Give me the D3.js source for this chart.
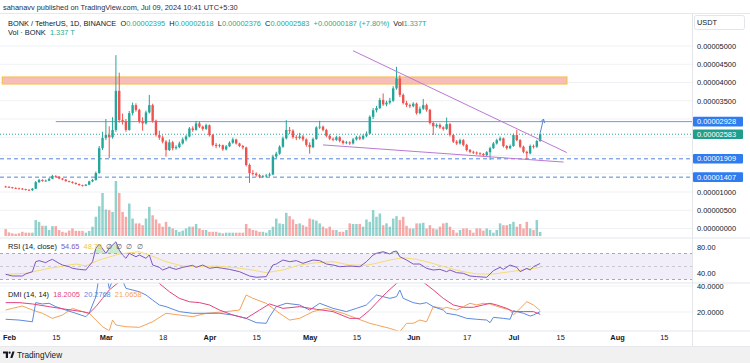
<!DOCTYPE html>
<html><head><meta charset="utf-8">
<script src="https://cdn.jsdelivr.net/npm/d3@7"></script>
<style>
html,body{margin:0;padding:0;background:#fff;}
svg{display:block;font-family:"Liberation Sans",Arial,sans-serif;}
</style></head><body>
<svg id="c" width="750" height="363"></svg>
<script>
// ---------- DATA (prices in units of 1e-6 USDT, volume in trillions BONK) ----------
const startDate = "2024-01-31";   // first candle
const firstOpen = 11.5;
const closes = [11.4,11.3,11.1,11.0,10.9,10.8,10.6,10.5,10.9,12.7,
 13.3,13.0,13.1,13.6,14.4,14.2,13.7,13.4,13.0,12.8,
 12.5,12.2,11.9,11.7,12.0,12.9,13.3,15.2,22.0,24.8,
 25.6,25.0,27.0,37.7,29.7,29.3,27.0,31.6,33.8,32.5,
 29.3,28.8,31.8,33.8,29.5,25.6,24.9,23.8,21.5,23.6,
 22.0,22.3,23.3,24.4,25.2,27.4,27.0,28.8,27.9,27.3,
 28.3,25.6,22.9,22.6,22.8,21.7,22.5,23.5,24.4,23.3,
 22.6,22.2,17.4,15.2,15.0,14.6,14.2,14.3,14.5,14.8,
 19.7,20.5,22.4,24.7,27.0,26.8,25.0,24.8,25.2,24.4,
 22.9,22.3,24.5,27.7,27.9,27.0,25.4,24.6,24.3,25.0,
 24.0,23.4,23.6,23.3,24.4,25.0,24.6,25.4,26.0,30.6,
 32.4,33.0,35.2,34.0,34.5,35.0,38.4,41.1,36.6,34.4,
 33.8,33.5,34.2,31.6,32.8,33.8,32.5,28.9,28.0,28.4,
 27.7,27.3,28.6,25.6,23.8,23.3,24.2,22.9,21.5,21.0,
 20.8,20.6,20.4,20.1,20.9,22.0,23.3,24.2,24.7,22.6,
 22.0,22.6,25.6,24.2,22.4,21.0,20.6,22.6,22.4,23.95,
 25.83];
const highs = [11.7,11.6,11.4,11.3,11.2,11.1,10.9,10.8,11.1,13.0,
 13.6,13.5,13.4,13.9,14.7,14.6,14.3,13.8,13.5,13.1,
 12.9,12.6,12.3,12.0,12.2,13.1,13.6,15.6,22.6,26.5,
 30.0,28.0,30.5,47.5,42.7,31.5,30.0,32.2,34.5,34.3,
 32.8,30.5,32.3,36.6,34.2,29.8,26.8,25.5,24.2,24.4,
 24.0,22.8,23.8,24.9,25.6,27.8,28.0,29.5,29.4,28.2,
 28.7,28.5,25.9,23.4,23.2,23.0,22.9,23.9,24.9,24.6,
 23.5,22.9,22.4,17.8,16.0,15.4,14.9,14.7,14.9,15.3,
 20.2,21.0,22.8,25.2,29.7,27.8,27.2,25.6,26.2,25.6,
 24.7,23.6,24.9,28.0,29.5,28.2,27.3,25.8,24.9,25.4,
 25.3,24.3,24.0,23.9,24.8,25.4,25.5,25.8,26.6,31.0,
 33.0,33.6,35.8,37.0,35.0,35.8,39.0,44.3,42.0,37.0,
 35.0,34.2,34.6,34.5,33.4,35.5,34.2,32.8,29.2,28.8,
 28.8,28.0,30.4,28.9,25.9,24.2,24.6,24.5,23.2,21.8,
 21.3,21.1,20.9,20.7,21.2,22.4,23.7,24.6,25.2,24.9,
 22.9,23.0,26.0,27.0,24.5,22.7,21.3,23.0,23.0,24.3,
 26.18];
const lows = [11.2,11.1,10.9,10.8,10.7,10.6,10.4,10.3,10.3,10.8,
 12.5,12.8,12.8,13.0,13.5,13.9,13.5,13.2,12.8,12.6,
 12.3,12.0,11.7,11.5,11.6,11.9,12.7,13.1,15.0,21.5,
 24.2,19.3,24.6,26.5,29.0,28.5,26.5,26.8,31.0,32.0,
 28.8,26.8,28.5,31.5,29.0,25.2,24.3,23.3,19.7,21.2,
 21.4,21.6,22.0,23.0,23.9,25.0,26.5,26.8,27.5,26.8,
 27.0,25.2,22.5,22.0,22.2,21.3,21.4,22.3,23.2,23.0,
 22.3,21.7,17.0,12.5,14.5,14.2,13.8,13.9,14.0,14.2,
 14.6,19.2,20.2,22.1,24.4,25.9,24.6,24.2,24.4,23.9,
 22.4,20.5,22.0,24.3,27.2,26.6,25.0,24.2,23.9,24.0,
 23.6,23.0,23.1,22.9,23.0,24.1,24.2,24.3,25.0,25.8,
 30.0,31.8,32.7,33.6,33.5,34.0,34.7,38.0,36.0,34.0,
 33.3,33.0,33.2,31.2,31.3,32.5,32.0,28.5,25.6,27.6,
 27.3,26.8,27.0,25.2,23.4,22.9,23.0,22.5,21.1,20.6,
 20.4,20.2,20.0,19.7,19.8,18.8,21.8,23.0,23.9,22.2,
 21.6,21.7,22.4,23.9,22.0,20.6,18.8,20.3,21.9,22.1,
 23.76];
const volumes = [2.3,1.2,0.9,0.7,0.9,1.4,1.1,1.1,1.1,5.3,
 4.7,3.4,3.4,2.0,3.3,3.3,2.0,1.4,1.1,1.8,
 2.5,1.7,1.7,1.7,1.1,1.7,3.1,6.4,9.9,14.3,
 8.8,8.6,8.0,18.3,14.3,8.0,6.4,10.8,5.8,4.2,
 4.2,3.6,5.8,9.7,6.9,5.5,4.2,3.1,4.7,3.1,
 2.5,2.0,1.4,1.8,
 2.5,3.1,3.1,4.0,2.5,2.0,2.0,1.4,1.4,1.4,
 1.1,0.9,1.1,1.1,1.1,1.1,1.1,1.1,4.0,2.5,
 2.0,1.8,1.4,1.4,1.1,2.0,3.1,5.8,4.2,4.0,
 7.7,6.6,5.5,4.0,4.2,3.6,3.1,5.8,5.5,5.1,
 4.2,3.1,2.5,3.1,2.0,2.0,1.4,1.4,2.0,4.2,
 4.0,4.0,4.0,3.1,5.5,
 4.7,8.6,6.4,7.5,3.6,4.2,3.1,5.8,6.6,5.3,
 6.4,3.4,2.5,2.5,4.2,4.2,4.4,2.5,3.6,2.5,
 2.2,3.1,4.2,4.4,3.1,2.0,1.1,2.0,2.5,2.5,
 2.0,1.1,2.5,2.5,1.8,2.5,2.0,1.1,2.0,4.2,
 3.6,3.6,4.0,4.7,3.1,4.0,2.5,4.7,2.5,2.0,
 5.3,1.337];

// indicator samples: day offsets from startDate and values
const rsiDays = [0,2,5,6,8,9,10,12,13,14,16,17,19,20,22,24,26,27,28,30,31,33,34,35,36,37,39,40,42,43,44,46,47,49,51,53,56,57,59,61,63,65,67,70,73,75,78,80,81,83,85,87,89,92,94,96,98,100,103,106,108,110,111,113,115,116,117,118,120,122,124,126,128,130,132,133,135,137,139,141,144,146,148,149,151,153,154,156,157,158,160];
const rsiValues = [38,35.4,35.4,38.5,42,57.4,59,55.9,59,61,54.9,52.3,49.7,47.2,45.6,44.6,57.4,78,84.6,70.3,78,88,75.4,67.7,62.6,70.3,65,67.7,62.6,67.7,52.3,48.7,44.6,48.7,45.6,48.7,51.8,48.7,52.3,47.2,48.7,47.2,45.6,42,35.4,33.4,34.4,52.3,53.8,60,57.4,59,54.9,60,59,53.8,52.3,49.7,50.7,49.7,57.4,67.7,70.3,72.8,69.2,72.8,73.8,65,60,53.8,53.8,47.2,44.6,45.6,42,44.6,40.5,39.5,35.4,34.4,33.4,43.6,48.7,45.6,52.3,48.7,42,47.2,44.6,49.7,54.65];
const rsiMaDays = [0,6,13,21,24,28,34,40,43,48,53,58,63,68,74,78,83,88,93,98,103,108,111,115,119,123,127,131,136,141,146,151,156,160];
const rsiMaValues = [38,39.5,47.2,53.8,51,60,69.2,72.8,67.7,57.4,50.7,49.7,50.7,48.7,44.6,40.5,44.6,52.3,55.9,57.4,52.3,52,55,60,63.5,61,56,50,43,38.5,38.5,42,45.6,48.73];
const adxDays = [0,4,8,13,18,23,25,27,29,31,34,37,40,43,46,49,52,55,58,61,64,68,72,76,79,83,88,93,98,103,106,109,111,114,117,121,125,128,131,134,137,140,145,147,150,152,155,158,160];
const adxValues = [27.2,27.2,26.2,24.1,22.1,20.3,19.0,24.1,30.5,36.9,43.3,50,52,50,42,35.6,30.5,27.9,27.2,25.4,21.5,17.7,15.1,21.5,26.2,22.8,24.1,22.1,20.3,15.1,15.1,21.5,27,35,42,48,43,37,30.5,25.4,23.6,23.6,26.7,25.4,22.8,20.3,20.3,20.3,18.2005];
const plusDiDays = [0,4,8,9,11,13,15,18,21,24,25,27,28,30,31,32,34,36,40,42,44,46,48,52,56,60,64,68,72,75,78,79,81,84,88,91,94,98,102,105,108,111,113,115,117,118,119,122,124,126,128,131,132,135,138,141,144,145,146,149,151,152,155,157,158,160];
const plusDiValues = [14.4,13.8,12.5,27.2,26.2,26.7,24.1,21.5,19.0,16.4,19.0,31.8,48,52,38,44,50,38.2,35.6,33.1,29.2,25.4,24.1,20.3,19.0,19.0,19.0,17.7,15.1,11.8,11.3,16.4,24.1,26.7,25.4,21.5,26.7,22.8,20.3,22.8,25.4,33.1,31.8,30.5,31.8,36.9,30.5,27.2,26.2,27.2,24.1,21.5,19.0,17.7,15.1,14.4,13.8,11.8,15.9,15.1,14.4,21.0,19.0,16.9,17.7,20.2768];
const minusDiDays = [0,2,5,8,11,14,17,20,23,25,27,29,31,32,33,36,40,44,48,52,56,60,66,70,72,74,78,82,85,88,92,96,101,105,109,111,115,118,120,122,124,126,128,131,132,135,137,139,141,143,145,148,151,152,154,156,158,160];
const minusDiValues = [21.5,22.8,24.6,21.5,19.0,15.1,17.7,22.8,20.3,19.0,13.8,8.7,5.6,13.8,10.0,8.7,8.2,12.5,19.0,17.7,16.4,19.0,20.3,21.5,33.1,30.5,26.7,19.0,13.8,15.1,20.3,22.8,19.0,15.1,11.3,10,7.4,4.9,11.3,11.3,13.8,12.5,24.1,22.8,23.6,21.5,24.1,26.7,25.4,26.7,26.2,23.6,21.5,17.7,22.8,27.9,25.4,21.0658];

// drawings
const zoneDates = ["2024-01-30","2024-07-17"]; const zonePrices = [39.6,41.5];
const resistanceStart = "2024-02-15"; const resistancePrice = 29.28;
const supportPrices = [19.09,14.07];
const lastPrice = 25.83;
const upperTrend = [["2024-05-14",48.7],["2024-07-17",20.8]];
const lowerTrend = [["2024-05-05",22.9],["2024-07-16",18.2]];
const arrowPts = [["2024-07-09",26.2],["2024-07-10",30.0]];
const priceTicks = [0,5,10,35,40,45,50];
const gridPrices = [0,5,10,15,20,25,30,35,40,45,50];
const timeTicks = ["2024-02-01","2024-02-15","2024-03-01","2024-03-18","2024-04-01","2024-04-15","2024-05-01","2024-05-15","2024-06-01","2024-06-17","2024-07-01","2024-07-15","2024-08-01","2024-08-15"];

// ---------- CHART ----------
const svg = d3.select("#c");
const parse = d3.utcParse("%Y-%m-%d");
const t0 = parse(startDate);
const dd = d => d3.utcDay.offset(t0, d);
const x = d3.scaleUtc().domain([parse("2024-02-01"), parse("2024-08-01")]).range([9, 617]);
const yP = d3.scaleLinear().domain([0, 50]).range([228.5, 46]);
const yV = d3.scaleLinear().domain([0, 18.3]).range([236, 181]);
const yR = d3.scaleLinear().domain([30, 70]).range([279.5, 253.5]);
const yD = d3.scaleLinear().domain([20, 40]).range([312, 286]);
const PW = 692; // plot right edge
const UP = "#26a69a", DN = "#ef5350";
const FONT = 7.4;

const defs = svg.append("defs");
const clip = (id, y0, y1) => defs.append("clipPath").attr("id", id).append("rect").attr("x", 0).attr("y", y0).attr("width", PW).attr("height", y1 - y0);
clip("cMain", 14, 238); clip("cRsi", 238, 283); clip("cDmi", 283, 331);
defs.append("clipPath").attr("id","cDmiAx").append("rect").attr("x",PW).attr("y",283).attr("width",60).attr("height",48);
defs.append("marker").attr("id","arr").attr("viewBox","0 0 8 8").attr("refX",6).attr("refY",4)
  .attr("markerWidth",6).attr("markerHeight",6).attr("orient","auto")
  .append("path").attr("d","M1,1 L6,4 L1,7").attr("fill","none").attr("stroke","#5a86d8").attr("stroke-width",1.2);

svg.append("rect").attr("width",750).attr("height",363).attr("fill","#fff");
// bottom strip
svg.append("rect").attr("x",0).attr("y",347).attr("width",750).attr("height",16).attr("fill","#f1f1f1");

// candles data
const candles = closes.map((c,i)=>({d:dd(i), o: i===0?firstOpen:closes[i-1], h:highs[i], l:lows[i], c, v:volumes[i]}));

// grid
const main = svg.append("g").attr("clip-path","url(#cMain)");
main.selectAll("line.g").data(gridPrices).join("line").attr("x1",0).attr("x2",PW)
  .attr("y1",d=>yP(d)).attr("y2",d=>yP(d)).attr("stroke","#f0f1f4").attr("stroke-width",1);

// zone
main.append("rect").attr("x",x(parse(zoneDates[0]))).attr("width",x(parse(zoneDates[1]))-x(parse(zoneDates[0])))
  .attr("y",yP(zonePrices[1])).attr("height",yP(zonePrices[0])-yP(zonePrices[1]))
  .attr("fill","#f7bdb8").attr("stroke","#f9c25a").attr("stroke-width",1.3);

// volume
main.selectAll("rect.v").data(candles).join("rect")
  .attr("x",d=>x(d.d)-1.25).attr("width",2.5)
  .attr("y",d=>yV(d.v)).attr("height",d=>yV(0)-yV(d.v))
  .attr("fill",d=>d.c>=d.o?"rgba(38,166,154,0.5)":"rgba(239,83,80,0.5)");

// horizontal levels
main.append("line").attr("x1",x(parse(resistanceStart))).attr("x2",PW).attr("y1",yP(resistancePrice)).attr("y2",yP(resistancePrice))
  .attr("stroke","#6c9be3").attr("stroke-width",1);
main.selectAll("line.s").data(supportPrices).join("line").attr("x1",0).attr("x2",PW)
  .attr("y1",d=>yP(d)).attr("y2",d=>yP(d)).attr("stroke","#5285dc").attr("stroke-width",1).attr("stroke-dasharray","4,3");
main.append("line").attr("x1",0).attr("x2",PW).attr("y1",yP(lastPrice)).attr("y2",yP(lastPrice))
  .attr("stroke",UP).attr("stroke-width",1).attr("stroke-dasharray","1,2");

// candles
const cg = main.append("g");
cg.selectAll("line.w").data(candles).join("line")
  .attr("x1",d=>x(d.d)).attr("x2",d=>x(d.d)).attr("y1",d=>yP(d.h)).attr("y2",d=>yP(d.l))
  .attr("stroke",d=>d.c>=d.o?UP:DN).attr("stroke-width",1);
cg.selectAll("rect.b").data(candles).join("rect")
  .attr("x",d=>x(d.d)-1.2).attr("width",2.4)
  .attr("y",d=>yP(Math.max(d.o,d.c))).attr("height",d=>Math.max(0.8,Math.abs(yP(d.o)-yP(d.c))))
  .attr("fill",d=>d.c>=d.o?UP:DN);

// trendlines
const tl = d3.line().x(p=>x(parse(p[0]))).y(p=>yP(p[1]));
main.append("path").attr("d",tl(upperTrend)).attr("stroke","#bb78d6").attr("stroke-width",1).attr("fill","none");
main.append("path").attr("d",tl(lowerTrend)).attr("stroke","#bb78d6").attr("stroke-width",1).attr("fill","none");
main.append("path").attr("d",tl(arrowPts)).attr("stroke","#5a86d8").attr("stroke-width",1).attr("fill","none").attr("marker-end","url(#arr)");

// RSI pane
const rsi = svg.append("g").attr("clip-path","url(#cRsi)");
rsi.append("rect").attr("x",0).attr("width",PW).attr("y",yR(70)).attr("height",yR(30)-yR(70)).attr("fill","rgba(126,87,194,0.1)");
[70,50,30].forEach(v=>rsi.append("line").attr("x1",0).attr("x2",PW).attr("y1",yR(v)).attr("y2",yR(v))
  .attr("stroke","#9598a1").attr("stroke-opacity",v===50?0.45:0.8).attr("stroke-dasharray","3,3").attr("stroke-width",1));
const rsiPts = rsiDays.map((d,i)=>({d:dd(d), v:rsiValues[i]}));
rsi.append("path").datum(rsiPts).attr("d",d3.area().x(p=>x(p.d)).y0(yR(70)).y1(p=>yR(Math.max(70,p.v))))
  .attr("fill","rgba(76,175,80,0.28)");
const maPts = rsiMaDays.map((d,i)=>({d:dd(d), v:rsiMaValues[i]}));
rsi.append("path").datum(maPts).attr("d",d3.line().x(p=>x(p.d)).y(p=>yR(p.v))).attr("fill","none").attr("stroke","#f4dc72").attr("stroke-width",1);
rsi.append("path").datum(rsiPts).attr("d",d3.line().x(p=>x(p.d)).y(p=>yR(p.v))).attr("fill","none").attr("stroke","#7e57c2").attr("stroke-width",1);

// DMI pane
const dmi = svg.append("g").attr("clip-path","url(#cDmi)");
[20,40].forEach(v=>dmi.append("line").attr("x1",0).attr("x2",PW).attr("y1",yD(v)).attr("y2",yD(v)).attr("stroke","#f0f1f4"));
const dl = d3.line().x(p=>x(p.d)).y(p=>yD(p.v));
const ser = (days,vals)=>days.map((d,i)=>({d:dd(d), v:vals[i]}));
dmi.append("path").datum(ser(minusDiDays,minusDiValues)).attr("d",dl).attr("fill","none").attr("stroke","#f4a35c").attr("stroke-width",1);
dmi.append("path").datum(ser(plusDiDays,plusDiValues)).attr("d",dl).attr("fill","none").attr("stroke","#5b8ae0").attr("stroke-width",1);
dmi.append("path").datum(ser(adxDays,adxValues)).attr("d",dl).attr("fill","none").attr("stroke","#e2447f").attr("stroke-width",1);

// separators
[[238],[283],[331]].forEach(([y])=>svg.append("line").attr("x1",0).attr("x2",750).attr("y1",y).attr("y2",y).attr("stroke","#e3e5ea"));
svg.append("line").attr("x1",0).attr("x2",750).attr("y1",13.5).attr("y2",13.5).attr("stroke","#e6e8ec");
svg.append("line").attr("x1",PW+0.5).attr("x2",PW+0.5).attr("y1",14).attr("y2",347).attr("stroke","#e3e5ea");
svg.append("line").attr("x1",0).attr("x2",750).attr("y1",346.5).attr("y2",346.5).attr("stroke","#e6e8ec");

// axes
const styleAxis = g => { g.select(".domain").remove(); g.selectAll("text").attr("font-size",FONT).attr("fill","#131722").attr("font-family","Liberation Sans, Arial, sans-serif"); };
svg.append("g").attr("transform",`translate(${PW},0)`)
  .call(d3.axisRight(yP).tickValues(priceTicks).tickSize(0).tickPadding(5).tickFormat(v=>(v/1e6).toFixed(8))).call(styleAxis);
svg.append("g").attr("transform",`translate(${PW},0)`)
  .call(d3.axisRight(yR).tickValues([40,80]).tickSize(0).tickPadding(5).tickFormat(d3.format(".2f"))).call(styleAxis);
svg.append("g").attr("clip-path","url(#cDmiAx)").append("g").attr("transform",`translate(${PW},0)`)
  .call(d3.axisRight(yD).tickValues([20,40]).tickSize(0).tickPadding(5).tickFormat(d3.format(".4f"))).call(styleAxis);
const fmtMonth = d3.utcFormat("%b"), fmtDay = d3.utcFormat("%-d");
const tAx = svg.append("g").attr("transform","translate(0,335)")
  .call(d3.axisBottom(x).tickValues(timeTicks.map(parse)).tickSize(0).tickPadding(0)
    .tickFormat(d=>d.getUTCDate()===1?fmtMonth(d):fmtDay(d))).call(styleAxis);
tAx.selectAll("text").attr("font-weight",d=>d.getUTCDate()===1?"bold":"normal").attr("dy","0.71em");

// price marker labels
const markers = [[resistancePrice,"#2f7bf0"],[lastPrice,"#1f9e8c"],[supportPrices[0],"#2f7bf0"],[supportPrices[1],"#2f7bf0"]];
markers.forEach(([p,col])=>{
  svg.append("rect").attr("x",PW+1).attr("y",yP(p)-4.8).attr("width",50).attr("height",9.6).attr("fill",col).attr("rx",1);
  svg.append("text").attr("x",PW+5).attr("y",yP(p)).attr("dy","0.35em").attr("font-size",FONT).attr("fill","#fff").text((p/1e6).toFixed(8));
});
// USDT box
svg.append("rect").attr("x",PW+2.5).attr("y",15.5).attr("width",50).attr("height",14).attr("fill","#fff").attr("stroke","#e3e5ea").attr("rx",2);
svg.append("text").attr("x",PW+5).attr("y",22.5).attr("dy","0.35em").attr("font-size",FONT).attr("fill","#131722").text("USDT");

// header texts
svg.append("text").attr("x",3).attr("y",9.6).attr("font-size",FONT).attr("fill","#2a2e39").text("sahanavv published on TradingView.com, Jul 09, 2024 10:41 UTC+5:30");
const TEAL = "#22ab94", DARK = "#131722";
const leg = svg.append("text").attr("x",8).attr("y",25.5).attr("font-size",FONT).attr("fill",DARK);
[["BONK / TetherUS, 1D, BINANCE  ",DARK],["O",DARK],["0.00002395  ",TEAL],["H",DARK],["0.00002618  ",TEAL],["L",DARK],["0.00002376  ",TEAL],["C",DARK],["0.00002583  ",TEAL],["+0.00000187 (+7.80%)  ",TEAL],["Vol",DARK],["1.337T",TEAL]]
  .forEach(([t,c])=>leg.append("tspan").attr("fill",c).attr("xml:space","preserve").text(t));
leg.attr("xml:space","preserve");
const leg2 = svg.append("text").attr("x",8).attr("y",34.8).attr("font-size",FONT).attr("xml:space","preserve");
leg2.append("tspan").attr("fill",DARK).text("Vol · BONK  ");
leg2.append("tspan").attr("fill",TEAL).text("1.337 T");
const rl = svg.append("text").attr("x",8).attr("y",249).attr("font-size",FONT).attr("xml:space","preserve");
rl.append("tspan").attr("fill",DARK).text("RSI (14, close)  ");
rl.append("tspan").attr("fill","#7e57c2").text("54.65  ");
rl.append("tspan").attr("fill","#e8c84a").text("48.73  ");
rl.append("tspan").attr("fill","#50535e").text("∅  ∅  ∅  ∅");
const dlg = svg.append("text").attr("x",8).attr("y",296.5).attr("font-size",FONT).attr("xml:space","preserve");
dlg.append("tspan").attr("fill",DARK).text("DMI (14, 14)  ");
dlg.append("tspan").attr("fill","#e2447f").text("18.2005  ");
dlg.append("tspan").attr("fill","#5b8ae0").text("20.2768  ");
dlg.append("tspan").attr("fill","#f4a35c").text("21.0658");

// TradingView logo
const lg = svg.append("g").attr("fill","#131722");
lg.append("path").attr("d","M3,351.5 H8 V358 H5.8 V353.6 H3 Z");
lg.append("circle").attr("cx",9.6).attr("cy",352.7).attr("r",1.1);
lg.append("path").attr("d","M10.2,358 L12.4,351.5 H14.6 L12.4,358 Z");
svg.append("text").attr("x",17).attr("y",358.2).attr("font-size",8.2).attr("fill","#131722").text("TradingView");
</script></body></html>
